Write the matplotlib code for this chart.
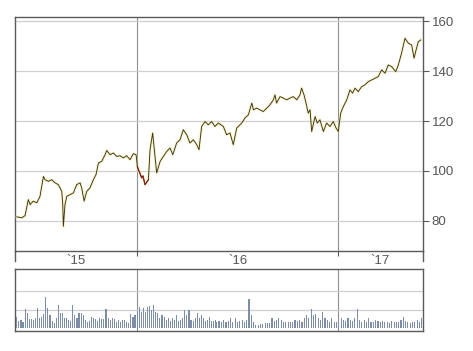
import matplotlib.pyplot as plt
import numpy as np

# price path (decimal years, close)
t = np.array([2015.405, 2015.430, 2015.446, 2015.462, 2015.471, 2015.487, 2015.504, 2015.520,
              2015.537, 2015.545, 2015.562, 2015.578, 2015.595, 2015.611, 2015.628, 2015.633,
              2015.636, 2015.644, 2015.653, 2015.669, 2015.686, 2015.702, 2015.719, 2015.727,
              2015.739, 2015.752, 2015.768, 2015.785, 2015.798, 2015.810, 2015.826, 2015.843,
              2015.851, 2015.868, 2015.884, 2015.901, 2015.917, 2015.934, 2015.950, 2015.967,
              2015.983, 2015.997, 2016.003, 2016.011, 2016.025, 2016.031, 2016.041, 2016.058,
              2016.066, 2016.079, 2016.091, 2016.099, 2016.116, 2016.132, 2016.149, 2016.165,
              2016.179, 2016.198, 2016.215, 2016.231, 2016.248, 2016.264, 2016.281, 2016.298,
              2016.309, 2016.322, 2016.339, 2016.355, 2016.372, 2016.388, 2016.405, 2016.430,
              2016.446, 2016.463, 2016.479, 2016.496, 2016.521, 2016.537, 2016.554, 2016.571,
              2016.579, 2016.595, 2016.612, 2016.628, 2016.645, 2016.661, 2016.678, 2016.686,
              2016.694, 2016.711, 2016.728, 2016.744, 2016.760, 2016.777, 2016.794, 2016.810,
              2016.818, 2016.830, 2016.840, 2016.851, 2016.860, 2016.868, 2016.885, 2016.896,
              2016.909, 2016.926, 2016.942, 2016.959, 2016.975, 2016.989, 2017.000, 2017.012,
              2017.025, 2017.042, 2017.058, 2017.071, 2017.083, 2017.099, 2017.116, 2017.132,
              2017.149, 2017.166, 2017.182, 2017.198, 2017.215, 2017.232, 2017.248, 2017.265,
              2017.285, 2017.298, 2017.314, 2017.331, 2017.348, 2017.364, 2017.376, 2017.386,
              2017.397, 2017.409])
price = np.array([81.6, 81.2, 82.1, 88.5, 86.5, 87.9, 87.2, 89.8,
                  97.8, 96.5, 95.8, 96.5, 95.2, 94.5, 91.8, 86.5,
                  77.8, 86.5, 89.8, 90.5, 91.2, 94.5, 95.2, 93.2,
                  87.9, 91.8, 93.2, 96.5, 98.5, 103.2, 103.8, 106.5,
                  108.2, 106.5, 107.2, 105.8, 106.1, 105.2, 106.1, 104.5,
                  106.9, 106.5, 101.8, 100.0, 97.2, 98.0, 94.5, 96.5,
                  108.5, 115.2, 105.8, 99.2, 103.8, 105.8, 107.8, 109.2,
                  106.5, 111.2, 112.5, 116.5, 114.5, 111.2, 112.5, 110.5,
                  108.5, 117.8, 119.8, 118.5, 119.8, 117.8, 119.2, 117.8,
                  114.5, 115.2, 110.5, 117.2, 119.2, 121.2, 122.5, 127.2,
                  124.5, 125.2, 124.5, 123.8, 125.2, 126.5, 128.5, 130.5,
                  127.2, 129.8, 129.2, 128.5, 129.2, 129.8, 128.5, 130.5,
                  133.2, 130.5, 127.2, 123.2, 124.5, 115.8, 121.8, 119.2,
                  120.5, 115.8, 119.2, 117.8, 119.8, 117.2, 115.8, 123.2,
                  125.8, 128.5, 132.5, 131.2, 133.2, 131.8, 133.8, 134.5,
                  135.8, 136.5, 137.2, 137.8, 140.5, 139.2, 142.5, 141.8,
                  139.8, 142.5, 147.2, 153.2, 151.2, 150.5, 145.2, 148.5,
                  151.8, 152.5])
red_period = (2016.0, 2016.06)

# volume (two stretches of evenly spaced bars)
vol_a_span = (2015.405, 2016.393)
vol_a = [12.5, 7.8, 8.9, 6.4, 20.7, 16.1, 10.0, 10.0, 8.9, 10.7,
         21.4, 11.5, 12.5, 15.0, 33.2, 21.4, 14.3, 7.8, 5.4, 10.7,
         25.0, 16.1, 16.1, 11.5, 10.7, 8.9, 7.8, 25.0, 14.3, 10.7,
         16.1, 16.1, 14.3, 8.9, 6.4, 7.8, 12.5, 10.7, 9.6, 7.8,
         10.7, 10.0, 10.0, 20.7, 10.7, 8.9, 10.7, 9.6, 7.2, 8.9,
         6.4, 8.9, 8.9, 7.2, 5.4, 15.0, 12.5, 14.3, 18.5, 23.3,
         17.9, 22.2, 17.9, 23.3, 24.3, 19.6, 25.0, 17.9, 16.1, 11.5,
         14.3, 12.5, 8.9, 10.7, 7.8, 10.7, 8.9, 14.3, 7.8, 8.9,
         10.7, 19.6, 14.3, 19.6, 8.9, 7.8, 10.7, 16.1, 10.7, 14.3,
         10.7, 7.8, 8.9, 12.5, 7.8, 7.8, 8.9]
vol_b_span = (2016.397, 2017.414)
vol_b = [7.2, 7.8, 6.4, 8.9, 7.2, 7.8, 10.7, 7.2, 10.7, 6.4,
         7.8, 8.9, 7.2, 8.9, 31.1, 14.3, 6.4, 3.5, 3.5, 4.3,
         4.3, 5.4, 5.4, 5.4, 10.7, 7.8, 8.9, 10.7, 8.9, 7.2,
         6.4, 7.2, 6.4, 7.2, 8.9, 7.8, 8.9, 6.4, 10.7, 14.3,
         10.7, 20.7, 14.3, 15.0, 11.5, 8.9, 17.9, 10.7, 8.9, 7.2,
         10.7, 7.2, 6.4, 5.4, 11.5, 8.9, 7.8, 10.7, 8.9, 7.8,
         10.7, 20.7, 8.9, 7.2, 8.9, 6.4, 10.7, 7.2, 6.4, 8.9,
         7.8, 6.4, 7.8, 7.2, 6.4, 5.4, 7.8, 6.4, 6.4, 7.2,
         8.9, 12.5, 7.8, 7.2, 5.4, 6.4, 7.2, 8.9, 6.4, 10.7]

year_labels = ["`15", "`16", "`17"]
years = [2015, 2016, 2017]
price_ticks = [80, 100, 120, 140, 160]

xmin, xmax = 2015.396, 2017.419

# Plot settings
plt.rcParams['font.family'] = ['Liberation Sans', 'DejaVu Sans']
f = plt.figure(figsize=(4.73, 3.51), dpi=100)
spine_c = '#5a5a5a'
grid_c = '#cfcfcf'
vgrid_c = '#8f8f8f'
text_c = '#555555'

ax = f.add_axes([0.0317, 0.2857, 0.862, 0.665])
axv = f.add_axes([0.0317, 0.0578, 0.862, 0.175])

# price
ax.plot(t, price, color='#eee488', linewidth=2.0, alpha=0.45, solid_joinstyle='round', zorder=3)
ax.plot(t, price, color='#3b3316', linewidth=0.65, zorder=4)
m = (t >= red_period[0]) & (t <= red_period[1])
ax.plot(t[m], price[m], color='#8e1c1c', linewidth=0.8, zorder=5)

ax.set_xlim(xmin, xmax)
ax.set_ylim(68.0, 161.6)
ax.yaxis.tick_right()
ax.set_yticks(price_ticks)
ax.tick_params(axis='y', colors=spine_c, labelcolor=text_c, labelsize=9.5, length=4, width=0.8, pad=2.5)
ax.set_xticks(years[1:])
ax.set_xticklabels([])
ax.tick_params(axis='x', colors=spine_c, length=3.5, width=0.8)
mids = [(max(y, xmin) + min(y + 1, xmax)) / 2 for y in years]
ax.set_xticks(mids, minor=True)
ax.set_xticklabels(year_labels, minor=True)
ax.tick_params(axis='x', which='minor', length=0, labelsize=9.5, labelcolor=text_c, pad=3)
ax.grid(axis='y', color=grid_c, linewidth=0.9)
for y in years[1:]:
    ax.axvline(y, color=vgrid_c, linewidth=0.8, zorder=1)
for s in ax.spines.values():
    s.set_color(spine_c)
    s.set_linewidth(1.0)
for xe in (0, 1):
    ax.plot([xe, xe], [0, -0.043], transform=ax.transAxes, color=spine_c, linewidth=1.0, clip_on=False)

# volume
ta = np.linspace(vol_a_span[0], vol_a_span[1], len(vol_a))
tb = np.linspace(vol_b_span[0], vol_b_span[1], len(vol_b))
axv.bar(ta, vol_a, width=0.0055, color='#7d8da6', zorder=3)
axv.bar(tb, vol_b, width=0.0055, color='#7d8da6', zorder=3)
axv.set_xlim(xmin, xmax)
axv.set_ylim(-2.6, 63.3)
axv.set_yticks([20, 40])
axv.set_xticks([])
axv.tick_params(axis='y', length=0, labelright=False, labelleft=False)
axv.grid(axis='y', color=grid_c, linewidth=0.9)
for y in years[1:]:
    axv.axvline(y, color=vgrid_c, linewidth=0.8, zorder=1)
for s in axv.spines.values():
    s.set_color(spine_c)
    s.set_linewidth(1.0)

plt.savefig("out.png", dpi=100)
